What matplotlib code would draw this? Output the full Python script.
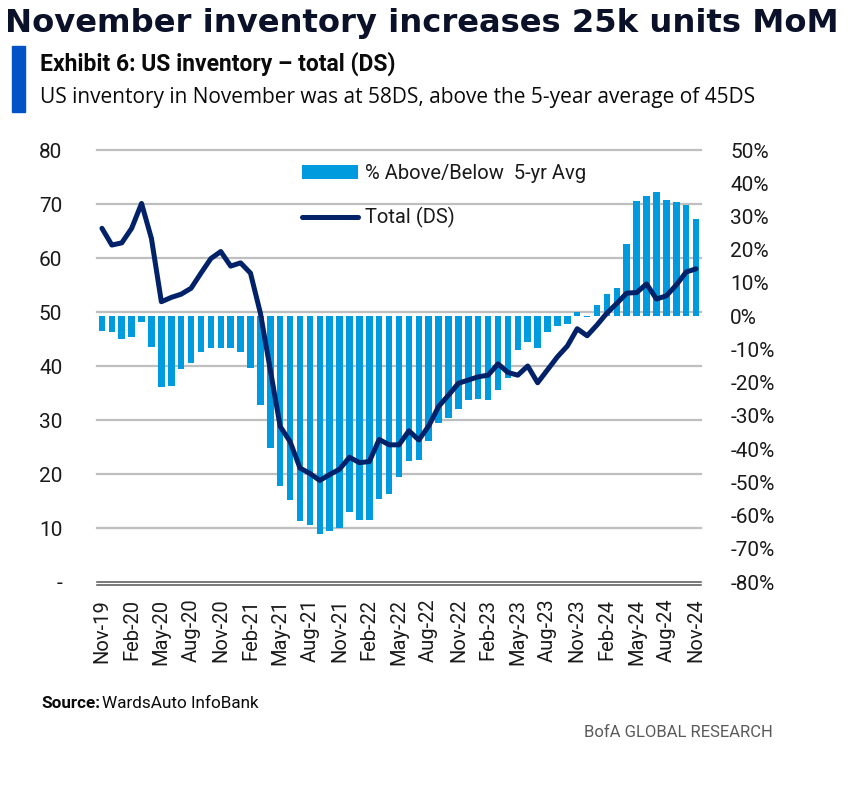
import matplotlib
matplotlib.use("Agg")
import matplotlib.pyplot as plt
import matplotlib.transforms as mtransforms
from matplotlib.patches import Rectangle
import pandas as pd

# ---- data ----
months = list(pd.date_range("2019-11-01", periods=61, freq="MS").strftime("%b-%y"))
pct_vs_avg = [-4.4, -4.7, -7.0, -6.2, -1.7, -9.2, -21.3, -21.1, -15.8, -14.0,
              -10.8, -9.6, -9.6, -9.6, -10.8, -15.6, -26.8, -39.8, -51.2, -55.4,
              -61.7, -62.9, -65.7, -64.6, -63.7, -58.9, -61.2, -61.4, -54.9, -53.4,
              -48.3, -43.5, -43.3, -37.5, -32.1, -30.5, -27.8, -25.3, -24.8, -25.1,
              -22.1, -18.6, -10.2, -7.8, -9.7, -4.7, -3.0, -2.5, 1.2, -0.3,
              3.5, 6.8, 8.5, 21.7, 34.8, 36.3, 37.5, 35.1, 34.5, 33.4, 29.1]
total_ds = [65.5, 62.4, 62.8, 65.5, 70.1, 63.6, 51.9, 52.7, 53.3, 54.4,
            57.2, 59.9, 61.2, 58.5, 59.1, 57.2, 49.8, 39.3, 28.8, 26.0,
            21.1, 20.1, 18.8, 19.9, 20.9, 23.1, 22.1, 22.3, 26.4, 25.4,
            25.4, 28.0, 26.3, 28.9, 32.5, 34.6, 36.8, 37.4, 38.0, 38.3,
            40.4, 38.8, 38.3, 40.0, 36.9, 39.3, 41.7, 43.7, 46.9, 45.6,
            47.6, 49.8, 51.6, 53.5, 53.6, 55.2, 52.4, 53.0, 55.0, 57.4, 58.0]
left_ticks = [0, 10, 20, 30, 40, 50, 60, 70, 80]
left_labels = ["-", "10", "20", "30", "40", "50", "60", "70", "80"]
right_ticks = list(range(-80, 51, 10))
right_labels = [f"{t}%" for t in right_ticks]

BAR_C = "#009ADE"
LINE_C = "#012169"
GRID_C = "#BFBFBF"
TXT = "#1a1a1a"

W, H = 860, 788
fig = plt.figure(figsize=(W / 100, H / 100), dpi=100)
plt.rcParams["font.family"] = ["Roboto", "DejaVu Sans"]

def fx(px):
    return px / W

def fy(py):
    return 1 - py / H

# axes
x0, x1, y_top, y_bot = 97, 701, 150, 582
ax = fig.add_axes([fx(x0), fy(y_bot), fx(x1 - x0), (y_bot - y_top) / H])
ax2 = ax.twinx()
ax.set_zorder(ax2.get_zorder() + 1)
ax.patch.set_visible(False)

xs = list(range(len(months)))
bars = ax2.bar(xs, pct_vs_avg, width=0.66, color=BAR_C, zorder=3,
               label="% Above/Below  5-yr Avg")
line, = ax.plot(xs, total_ds, color=LINE_C, lw=3.6, solid_joinstyle="round",
                solid_capstyle="round", label="Total (DS)", zorder=5)

ax.set_xlim(-0.5, len(months) - 0.5)
ax.set_ylim(0, 80)
ax2.set_ylim(-80, 50)

# gridlines (left-axis values) drawn behind bars
blend = mtransforms.blended_transform_factory(ax2.transAxes, ax.transData)
for v in left_ticks[1:]:
    ax2.plot([0, 1], [v, v], transform=blend, color=GRID_C, lw=1.6, zorder=1,
             clip_on=False)

# double baseline
off = mtransforms.ScaledTranslation(0, -3 / 100, fig.dpi_scale_trans)
ax.axhline(0, color="#555555", lw=1.1, zorder=6, clip_on=False)
ax.plot([0, 1], [0, 0], transform=mtransforms.blended_transform_factory(ax.transAxes, ax.transData) + off,
        color="#555555", lw=1.1, zorder=6, clip_on=False)

for a in (ax, ax2):
    for s in a.spines.values():
        s.set_visible(False)

ax.set_yticks(left_ticks)
ax.set_yticklabels(left_labels)
ax.tick_params(axis="y", length=0, pad=25, labelsize=15, labelcolor=TXT)
ax2.set_yticks(right_ticks)
ax2.set_yticklabels(right_labels)
ax2.tick_params(axis="y", length=0, pad=21, labelsize=15, labelcolor=TXT)

ax.set_xticks(xs[::3])
ax.set_xticklabels(months[::3], rotation=90)
ax.tick_params(axis="x", length=0, pad=12, labelsize=14.5, labelcolor=TXT)
ax2.tick_params(axis="x", length=0, labelbottom=False)

leg = ax.legend([bars, line], ["% Above/Below  5-yr Avg", "Total (DS)"],
                loc="upper left", bbox_to_anchor=(fx(302), fy(164)),
                bbox_transform=fig.transFigure, frameon=False, fontsize=14.5,
                handlelength=2.8, handletextpad=0.35, labelspacing=1.2,
                borderpad=0, borderaxespad=0)
for t in leg.get_texts():
    t.set_color(TXT)

# header
fig.text(fx(5), fy(32), "November inventory increases 25k units MoM",
         fontsize=23.2, fontweight="bold", color="#0a1128", family=["DejaVu Sans"],
         va="baseline", ha="left")
fig.patches.append(Rectangle((fx(12), fy(112)), fx(13), (112 - 46) / H,
                             transform=fig.transFigure, color="#0053C7", zorder=1))
fig.text(fx(40), fy(71), "Exhibit 6: US inventory \u2013 total (DS)", fontsize=16.5,
         fontweight="bold", color="#0a0a0a", va="baseline", ha="left")
fig.text(fx(40), fy(103),
         "US inventory in November was at 58DS, above the 5-year average of 45DS",
         fontsize=15, color="#0a0a0a", va="baseline", ha="left",
         family=["Open Sans", "DejaVu Sans"])

# footer
fig.text(fx(41), fy(708), "Source:", fontsize=12.3, fontweight="bold", color="#0a0a0a",
         va="baseline", ha="left")
fig.text(fx(102), fy(708), "WardsAuto InfoBank", fontsize=12.3, color="#0a0a0a",
         va="baseline", ha="left")
fig.text(fx(773), fy(737), "BofA GLOBAL RESEARCH", fontsize=12, color="#5a5a5a",
         va="baseline", ha="right")

fig.savefig("out.png", dpi=100)
